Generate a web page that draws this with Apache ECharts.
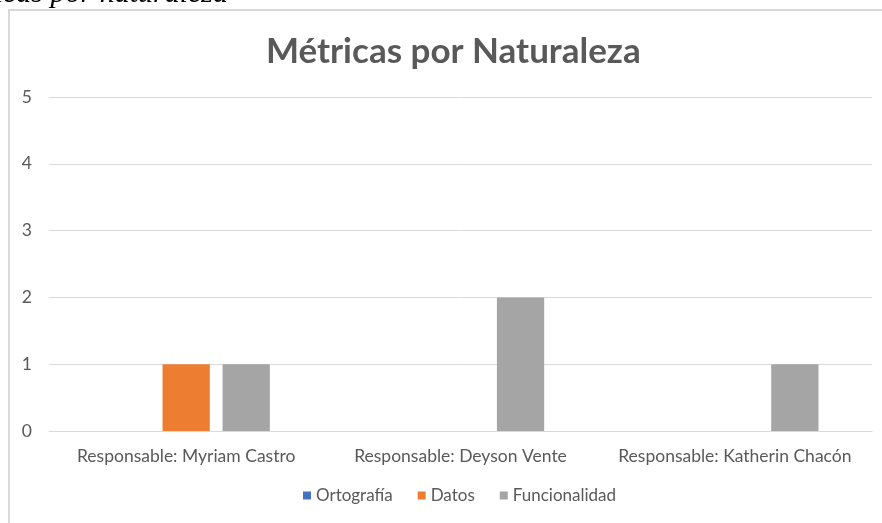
<!DOCTYPE html>
<html>
<head>
<meta charset="utf-8">
<script src="https://cdn.jsdelivr.net/npm/echarts@6/dist/echarts.min.js"></script>
<style>
  html, body { margin: 0; padding: 0; background: #ffffff; }
  #chart { width: 882px; height: 523px; }
</style>
</head>
<body>
<div id="chart"></div>
<script>
// Categories (responsables) and metric counts per nature
const categories = ['Responsable: Myriam Castro', 'Responsable: Deyson Vente', 'Responsable: Katherin Chacón'];
const ortografia = [0, 0, 0];
const datos = [1, 0, 0];
const funcionalidad = [1, 2, 1];
const seriesNames = ['Ortografía', 'Datos', 'Funcionalidad'];
const yTicks = [0, 1, 2, 3, 4, 5];

const textColor = '#595959';
const gridColor = '#d9d9d9';
const bodyFont = 'Lato, "Open Sans", sans-serif';

const chart = echarts.init(document.getElementById('chart'), null, { renderer: 'canvas' });

chart.setOption({
  animation: false,
  backgroundColor: '#ffffff',
  color: ['#4472C4', '#ED7D31', '#A5A5A5'],
  graphic: [
    {
      // chart area frame
      type: 'rect',
      shape: { x: 9, y: 10, width: 900, height: 600 },
      style: { fill: 'none', stroke: gridColor, lineWidth: 2 },
      silent: true
    },
    {
      // document caption above the chart frame
      type: 'text',
      x: 228,
      y: -6,
      style: {
        text: 'Métricas por naturaleza',
        font: 'italic 30px "Liberation Serif", "DejaVu Serif", serif',
        fill: '#000000',
        align: 'right',
        verticalAlign: 'middle'
      },
      silent: true
    }
  ],
  title: {
    text: 'Métricas por Naturaleza',
    left: 261,
    top: 29,
    textStyle: {
      fontFamily: bodyFont,
      fontWeight: 'bold',
      fontSize: 35,
      color: textColor
    }
  },
  legend: {
    data: seriesNames,
    bottom: 14,
    left: 298,
    itemWidth: 8,
    itemHeight: 8,
    itemGap: 25,
    icon: 'rect',
    textStyle: { fontFamily: bodyFont, fontSize: 17, color: textColor }
  },
  grid: { left: 49, right: 10, top: 97, bottom: 92 },
  xAxis: {
    type: 'category',
    data: categories,
    axisLine: { show: true, lineStyle: { color: gridColor, width: 1 } },
    axisTick: { show: false },
    axisLabel: { interval: 0, fontFamily: bodyFont, fontSize: 17.5, color: textColor, margin: 16 }
  },
  yAxis: {
    type: 'value',
    min: yTicks[0],
    max: yTicks[yTicks.length - 1],
    interval: 1,
    axisLine: { show: false },
    axisTick: { show: false },
    splitLine: { lineStyle: { color: gridColor, width: 1 } },
    axisLabel: { fontFamily: bodyFont, fontSize: 17.5, color: textColor, margin: 17 }
  },
  series: [
    { name: seriesNames[0], type: 'bar', data: ortografia, barGap: '27%', barCategoryGap: '39%' },
    { name: seriesNames[1], type: 'bar', data: datos, barGap: '27%', barCategoryGap: '39%' },
    { name: seriesNames[2], type: 'bar', data: funcionalidad, barGap: '27%', barCategoryGap: '39%' }
  ]
});
</script>
</body>
</html>
